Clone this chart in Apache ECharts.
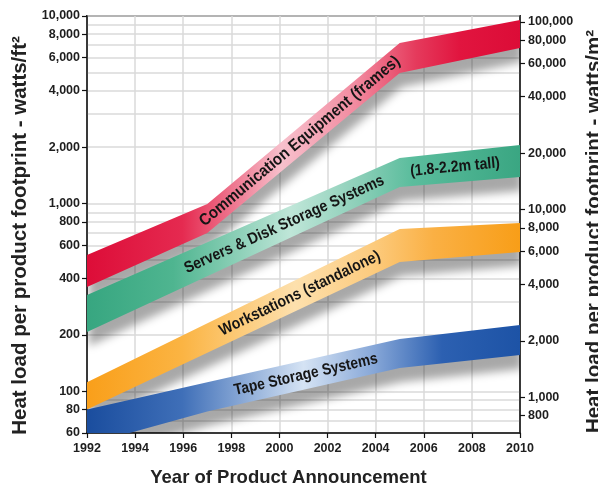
<!DOCTYPE html>
<html>
<head>
<meta charset="utf-8">
<script src="https://cdn.jsdelivr.net/npm/echarts@6/dist/echarts.min.js"></script>
<style>
  html, body { margin: 0; padding: 0; background: #ffffff; }
  #chart { width: 598px; height: 490px; }
</style>
</head>
<body>
<div id="chart"></div>
<script>
// ---- Heat-load trend envelopes (watts per square foot of product footprint) ----
const commYears = [1992, 1997, 2005, 2010];
const commUpper = [533, 996, 7180, 9520];
const commLower = [360, 698, 4970, 6750];

const serverYears = [1992, 2005, 2010];
const serverUpper = [326, 1752, 2055];
const serverLower = [207, 1227, 1388];

const workYears = [1992, 2005, 2010];
const workUpper = [112, 733, 789];
const workLower = [80, 489, 553];

const tapeYears = [1992, 1997, 2005, 2010];
const tapeUpper = [80, 112, 190, 226];
const tapeLower = [52, 78, 133, 156];

// ---- Axis tick labels ----
const yearTicks = [1992, 1994, 1996, 1998, 2000, 2002, 2004, 2006, 2008, 2010];
const ft2Ticks = [60, 80, 100, 200, 400, 600, 800, 1000, 2000, 4000, 6000, 8000, 10000];
const m2Ticks = [800, 1000, 2000, 4000, 6000, 8000, 10000, 20000, 40000, 60000, 80000, 100000];
const gridValues = [60, 70, 80, 90, 100, 200, 300, 400, 500, 600, 700, 800, 900,
                    1000, 2000, 3000, 4000, 5000, 6000, 7000, 8000, 9000, 10000];

const SQFT_PER_SQM = 10.7639;
const FT2_MIN = 60, FT2_MAX = 10000;

const FONT = '"Liberation Sans", Arial, Helvetica, sans-serif';

function fmt(v) {
  return Math.round(v).toLocaleString('en-US');
}

// Interpolate a pixel polyline at a given x
function interpAt(pts, x) {
  for (let i = 0; i < pts.length - 1; i++) {
    const a = pts[i], b = pts[i + 1];
    if (x >= a[0] && x <= b[0]) {
      const t = (x - a[0]) / (b[0] - a[0]);
      return { y: a[1] + t * (b[1] - a[1]), slope: (b[1] - a[1]) / (b[0] - a[0]) };
    }
  }
  const a = pts[pts.length - 2], b = pts[pts.length - 1];
  return { y: b[1], slope: (b[1] - a[1]) / (b[0] - a[0]) };
}

function band(name, years, upper, lower, stops, labels) {
  return {
    type: 'custom',
    name: name,
    xAxisIndex: 0,
    yAxisIndex: 0,
    clip: true,
    silent: true,
    data: years.map((y, i) => [y, upper[i], lower[i]]),
    renderItem: function (params, api) {
      if (params.dataIndex !== 0) return null;
      const top = years.map((y, i) => api.coord([y, upper[i]]));
      const bot = years.map((y, i) => api.coord([y, lower[i]]));
      const poly = top.concat(bot.slice().reverse());
      const children = [{
        type: 'polygon',
        shape: { points: poly },
        style: {
          fill: new echarts.graphic.LinearGradient(0, 0, 1, 0, stops),
          shadowBlur: 9,
          shadowOffsetX: 2,
          shadowOffsetY: 14,
          shadowColor: 'rgba(0,0,0,0.34)'
        }
      }];
      labels.forEach(function (lb) {
        const px = api.coord([lb.year, upper[0]])[0];
        const t = interpAt(top, px), b = interpAt(bot, px);
        const cy = (t.y + b.y) / 2 + (lb.dy || 0);
        const ang = Math.atan(-(t.slope + b.slope) / 2) + (lb.tilt || 0);
        children.push({
          type: 'text',
          x: px,
          y: cy,
          rotation: ang,
          scaleX: lb.squeeze || 0.88,
          z2: 10,
          style: {
            text: lb.text,
            font: 'bold ' + lb.size + 'px ' + FONT,
            fill: '#151515',
            align: 'center',
            verticalAlign: 'middle'
          }
        });
      });
      return { type: 'group', children: children };
    }
  };
}

const chart = echarts.init(document.getElementById('chart'), null, { renderer: 'canvas' });

const tickLabelStyle = {
  fontFamily: FONT,
  fontWeight: 'bold',
  fontSize: 12.5,
  color: '#1e1e1e'
};

const titleStyle = { fontFamily: FONT, fontWeight: 'bold', color: '#222' };

chart.setOption({
  backgroundColor: '#ffffff',
  animation: false,
  grid: {
    left: 87, right: 78, top: 16, bottom: 57,
    containLabel: false,
    outerBoundsMode: 'none',
    show: true,
    borderColor: '#444444',
    borderWidth: 2,
    backgroundColor: 'transparent'
  },
  xAxis: {
    type: 'value',
    min: 1992,
    max: 2010,
    interval: 2,
    name: 'Year of Product Announcement',
    nameLocation: 'middle',
    nameGap: 35,
    nameTextStyle: Object.assign({ fontSize: 18.5, padding: [0, 30, 0, 0] }, titleStyle),
    axisLine: { show: true, lineStyle: { color: '#111', width: 1.5 } },
    axisTick: { show: true, length: 5, lineStyle: { color: '#111', width: 1.2 } },
    axisLabel: Object.assign({ margin: 9, formatter: v => String(v) }, tickLabelStyle),
    splitLine: { show: true, lineStyle: { color: '#dadada', width: 1.5 } }
  },
  yAxis: [
    {
      type: 'log',
      logBase: 10,
      min: FT2_MIN,
      max: FT2_MAX,
      position: 'left',
      name: 'Heat load per product footprint - watts/ft\u00B2',
      nameLocation: 'middle',
      nameRotate: 90,
      nameGap: 52,
      nameTextStyle: Object.assign({ fontSize: 20.5, padding: [0, 22, 0, 0] }, titleStyle),
      axisLine: { show: true, lineStyle: { color: '#111', width: 1.5 } },
      axisTick: { show: true, length: 5, customValues: ft2Ticks, lineStyle: { color: '#111', width: 1.2 } },
      axisLabel: Object.assign({ margin: 7, customValues: ft2Ticks, formatter: fmt }, tickLabelStyle),
      splitLine: { show: false }
    },
    {
      type: 'log',
      logBase: 10,
      min: FT2_MIN * SQFT_PER_SQM,
      max: FT2_MAX * SQFT_PER_SQM,
      position: 'right',
      name: 'Heat load per product footprint - watts/m\u00B2',
      nameLocation: 'middle',
      nameRotate: 90,
      nameGap: 60,
      nameTextStyle: Object.assign({ fontSize: 20.5, padding: [0, 14, 0, 0] }, titleStyle),
      axisLine: { show: true, lineStyle: { color: '#111', width: 1.5 } },
      axisTick: { show: true, length: 5, customValues: m2Ticks, lineStyle: { color: '#111', width: 1.2 } },
      axisLabel: Object.assign({ margin: 8, customValues: m2Ticks, formatter: fmt }, tickLabelStyle),
      splitLine: { show: false }
    },
    {
      // log grid lines only
      type: 'log',
      logBase: 10,
      min: FT2_MIN,
      max: FT2_MAX,
      position: 'left',
      axisLine: { show: false },
      axisTick: { show: false, customValues: gridValues },
      axisLabel: { show: false, customValues: gridValues },
      splitLine: { show: true, lineStyle: { color: '#dadada', width: 1.5 } }
    }
  ],
  series: [
    band('Communication Equipment (frames)', commYears, commUpper, commLower, [
      { offset: 0.00, color: '#dd0d38' },
      { offset: 0.22, color: '#e52a50' },
      { offset: 0.45, color: '#f7c0cc' },
      { offset: 0.62, color: '#f28ba0' },
      { offset: 0.76, color: '#e53a5c' },
      { offset: 0.86, color: '#e1153f' },
      { offset: 1.00, color: '#dc0c37' }
    ], [{ text: 'Communication Equipment (frames)', year: 2000.85, size: 16.5, squeeze: 0.9 }]),
    band('Servers & Disk Storage Systems', serverYears, serverUpper, serverLower, [
      { offset: 0.00, color: '#37a680' },
      { offset: 0.20, color: '#4fb590' },
      { offset: 0.47, color: '#bfe6d8' },
      { offset: 0.62, color: '#8fd0ba' },
      { offset: 0.75, color: '#5bbd9d' },
      { offset: 1.00, color: '#3aa682' }
    ], [
      { text: 'Servers & Disk Storage Systems', year: 2000.2, size: 16 },
      { text: '(1.8-2.2m tall)', year: 2007.3, size: 16 }
    ]),
    band('Workstations (standalone)', workYears, workUpper, workLower, [
      { offset: 0.00, color: '#f99f1a' },
      { offset: 0.22, color: '#fbb443' },
      { offset: 0.48, color: '#fde0ad' },
      { offset: 0.66, color: '#fccb7e' },
      { offset: 0.80, color: '#fab044' },
      { offset: 1.00, color: '#f89e18' }
    ], [{ text: 'Workstations (standalone)', year: 2000.85, size: 16 }]),
    band('Tape Storage Systems', tapeYears, tapeUpper, tapeLower, [
      { offset: 0.00, color: '#1a4d9e' },
      { offset: 0.22, color: '#3f6fb8' },
      { offset: 0.50, color: '#d5e3f4' },
      { offset: 0.66, color: '#88a8d8' },
      { offset: 0.82, color: '#2c60b1' },
      { offset: 1.00, color: '#1d53a6' }
    ], [{ text: 'Tape Storage Systems', year: 2001.1, size: 16, squeeze: 0.86 }])
  ]
});
</script>
</body>
</html>
